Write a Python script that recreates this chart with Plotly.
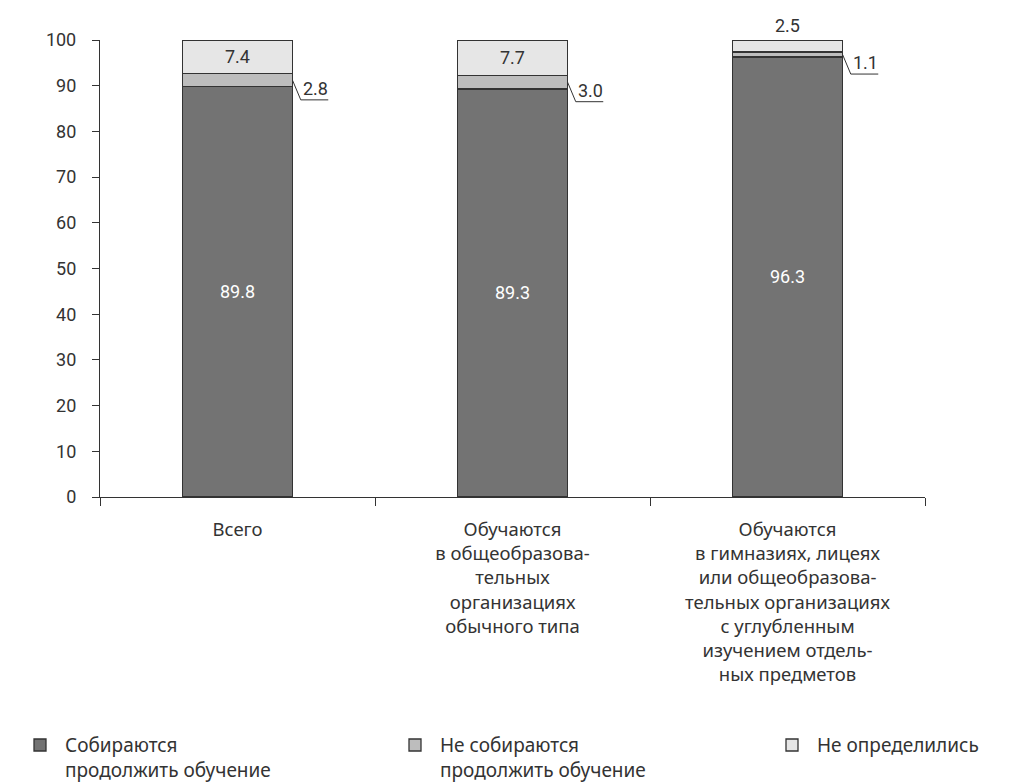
import plotly.graph_objects as go

categories = [
    "Всего",
    "Обучаются<br>в общеобразова-<br>тельных<br>организациях<br>обычного типа",
    "Обучаются<br>в гимназиях, лицеях<br>или общеобразова-<br>тельных организациях<br>с углубленным<br>изучением отдель-<br>ных предметов",
]
going_on = [89.8, 89.3, 96.3]
not_going = [2.8, 3.0, 1.1]
undecided = [7.4, 7.7, 2.5]
series_names = [
    "Собираются<br>продолжить обучение",
    "Не собираются<br>продолжить обучение",
    "Не определились",
]
colors = ["#737373", "#bdbdbd", "#e6e6e6"]
y_ticks = list(range(0, 101, 10))

FONT = "Roboto"
NUM = 18
TXT = "#333333"
idx = list(range(len(categories)))

fig = go.Figure()
series = [going_on, not_going, undecided]
for k, vals in enumerate(series):
    kw = {}
    if k == 0:
        kw = dict(text=[f"{v:.1f}" for v in vals], textposition="inside",
                  insidetextanchor="middle",
                  textfont=dict(color="white", size=NUM, family=FONT))
    fig.add_trace(go.Bar(
        x=idx, y=vals, name=series_names[k], marker_color=colors[k],
        marker_line=dict(color="#333333", width=1.3), width=0.4,
        legend="legend" if k == 0 else f"legend{k+1}", **kw,
    ))

annotations = []
shapes = []
for i in idx:
    a, b, c = going_on[i], not_going[i], undecided[i]
    if c >= 5:
        annotations.append(dict(x=i, y=a + b + c / 2, text=f"{c:.1f}", showarrow=False,
                                font=dict(size=NUM, color=TXT, family=FONT)))
    else:
        annotations.append(dict(x=i, y=a + b + c, text=f"{c:.1f}", showarrow=False,
                                yanchor="bottom", yshift=2,
                                font=dict(size=NUM, color=TXT, family=FONT)))
    ys = a + b / 2
    drop = 4.3
    x0 = i + 0.2
    x1 = x0 + 0.03
    x2 = x0 + 0.13
    shapes.append(dict(type="line", xref="x", yref="y", x0=x0, y0=ys, x1=x1, y1=ys - drop,
                       line=dict(color="#333333", width=1)))
    shapes.append(dict(type="line", xref="x", yref="y", x0=x1, y0=ys - drop, x1=x2, y1=ys - drop,
                       line=dict(color="#333333", width=1)))
    annotations.append(dict(x=(x1 + x2) / 2 + 0.005, y=ys - drop, text=f"{b:.1f}", showarrow=False,
                            yanchor="bottom", yshift=-1,
                            font=dict(size=NUM, color=TXT, family=FONT)))

def leg(xpx):
    return dict(orientation="h", xref="container", yref="container",
                x=xpx / 1017, xanchor="left", y=0.084, yanchor="top",
                valign="top", font=dict(size=19, color=TXT, family="Noto Sans"),
                itemwidth=40, bgcolor="rgba(0,0,0,0)")

fig.update_layout(
    barmode="stack",
    width=1017, height=784,
    margin=dict(l=92, r=100, t=32, b=295),
    plot_bgcolor="white", paper_bgcolor="white",
    showlegend=True,
    legend=leg(7), legend2=leg(382), legend3=leg(759),
    annotations=annotations,
    shapes=shapes,
    font=dict(family=FONT, color=TXT),
)
fig.update_xaxes(
    type="category", tickmode="array", tickvals=idx, ticktext=categories,
    range=[-0.5, 2.5], showline=True, linecolor="#333333", linewidth=1.3,
    ticks="outside", tickson="boundaries", ticklen=8, tickcolor="#333333",
    tickfont=dict(size=18.5, color=TXT, family="Noto Sans"), showgrid=False,
    automargin=False, ticklabelstandoff=16,
)
fig.update_yaxes(
    range=[0, 100], tickvals=y_ticks, showline=True, linecolor="#333333", linewidth=1.3,
    ticks="outside", ticklen=7, tickcolor="#333333", showgrid=False, zeroline=False,
    tickfont=dict(size=NUM, color=TXT, family=FONT), automargin=False,
    ticklabelstandoff=12,
)

fig.write_html("out.html")
